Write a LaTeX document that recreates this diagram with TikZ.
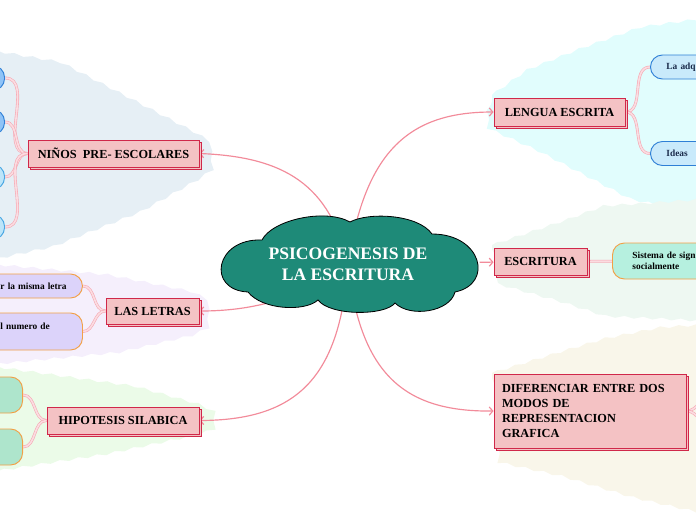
\documentclass[tikz,border=0pt]{standalone}
\usepackage{fontspec}
\setmainfont{Liberation Serif}
\usepackage{tikz}
\usetikzlibrary{shadows,arrows.meta,decorations.pathmorphing,backgrounds}
\definecolor{verdone}{HTML}{1E8A78}
\definecolor{rosa}{HTML}{F28B9A}
\definecolor{rosabox}{HTML}{F4C2C4}
\definecolor{cremisi}{HTML}{D0284A}
\definecolor{arancio}{HTML}{F2A046}
\definecolor{azzurro}{HTML}{2E7FD6}
\definecolor{celeste}{HTML}{45A5E3}
\definecolor{navy}{HTML}{1A2A4A}

\begin{document}
\begin{tikzpicture}[x=0.03cm,y=-0.03cm,
    fondo/.style={decorate, decoration={snake, amplitude=1pt, segment length=16pt}},
    tema/.style={rectangle, fill=rosabox, draw=cremisi, line width=0.8pt,
        copy shadow={shadow xshift=2.5pt, shadow yshift=-2.5pt},
        font=\fontsize{10.5}{12.75}\selectfont\bfseries, inner sep=0pt},
    titolo/.style={rectangle, minimum width=7.89cm, minimum height=2.79cm, inner sep=0pt,
        text=white, align=center, font=\fontsize{15}{18}\selectfont\bfseries},
    nube/.style={fill=verdone, draw=black, line width=0.7pt},
    foglia/.style={rectangle, rounded corners=0.36cm, line width=0.8pt,
        font=\fontsize{8}{9.5}\selectfont\bfseries, align=left},
    ramo/.style={draw=rosa!75, line width=0.5pt, double=rosa!30, double distance=1.4pt},
    freccia/.style={draw=rosa, line width=1pt, -{Straight Barb[length=3pt,width=7pt]}}]
    \useasboundingbox (0,0) rectangle (696,520);
    \clip (0,0) rectangle (696,520);

    % idea centrale
    \node[titolo] (centro) at (348,264) {PSICOGENESIS DE\\LA ESCRITURA};

    % temi
    \node[tema, minimum width=5.13cm, minimum height=0.81cm] (ninos) at (113.5,153.5) {NIÑOS~~PRE- ESCOLARES};
    \node[tema, minimum width=2.79cm, minimum height=0.78cm] (letras) at (152.5,311) {LAS LETRAS};
    \node[tema, minimum width=4.56cm, minimum height=0.81cm] (hipotesis) at (123,420.5) {HIPOTESIS SILABICA};
    \node[tema, minimum width=3.93cm, minimum height=0.84cm] (lengua) at (559.5,112) {LENGUA ESCRITA};
    \node[tema, minimum width=2.79cm, minimum height=0.81cm] (escritura) at (540.5,261.5) {ESCRITURA};
    \node[tema, minimum width=5.76cm, minimum height=2.22cm, text width=5.28cm, align=left]
        (diferenciar) at (590,411) {DIFERENCIAR ENTRE DOS\\MODOS DE\\REPRESENTACION\\GRAFICA};

    % foglie
    \node[foglia, fill={rgb,255:red,143;green,195;blue,247}, draw=azzurro, minimum width=2cm, minimum height=0.75cm,
        anchor=east] (n1) at (5,78) {};
    \node[foglia, fill={rgb,255:red,143;green,195;blue,247}, draw=azzurro, minimum width=2cm, minimum height=0.75cm,
        anchor=east] (n2) at (5,122) {};
    \node[foglia, fill={rgb,255:red,189;green,229;blue,249}, draw=celeste, minimum width=2cm, minimum height=0.75cm,
        anchor=east] (n3) at (5,177) {};
    \node[foglia, fill={rgb,255:red,189;green,229;blue,249}, draw=celeste, minimum width=2cm, minimum height=0.75cm,
        anchor=east] (n4) at (5,227) {};

    \node[foglia, fill={rgb,255:red,220;green,211;blue,250}, draw=arancio, text width=2.04cm, inner xsep=0.42cm,
        minimum height=0.72cm, anchor=west] (l1) at (-14,286) {r la misma letra};
    \node[foglia, fill={rgb,255:red,220;green,211;blue,250}, draw=arancio, text width=2.04cm, inner xsep=0.42cm,
        minimum height=1.11cm, anchor=west] (l2) at (-14,331.5) {l numero de\\\mbox{}};

    \node[foglia, fill={rgb,255:red,174;green,229;blue,204}, draw=arancio, minimum width=2cm, minimum height=1.08cm,
        anchor=east] (h1) at (23,395) {};
    \node[foglia, fill={rgb,255:red,174;green,229;blue,204}, draw=arancio, minimum width=2cm, minimum height=1.08cm,
        anchor=east] (h2) at (23,447) {};

    \node[foglia, fill={rgb,255:red,201;green,234;blue,251}, draw=azzurro, text=navy, text width=2cm,
        inner xsep=0.48cm, minimum height=0.72cm, anchor=west] (la1) at (650,67) {La adq};
    \node[foglia, fill={rgb,255:red,201;green,234;blue,251}, draw=azzurro, text=navy, text width=2cm,
        inner xsep=0.48cm, minimum height=0.72cm, anchor=west] (la2) at (650,153.5) {Ideas};

    \node[foglia, fill={rgb,255:red,182;green,240;blue,223}, draw=arancio, text width=2.6cm,
        inner xsep=0.6cm, minimum height=1.08cm, anchor=west] (es1) at (612,261) {Sistema de sign\\socialmente};

    \coordinate (d1) at (712,396);
    \coordinate (d2) at (712,426);

    \begin{scope}[on background layer]
    % sfondi dei rami
    \fill[fondo, fill={rgb,255:red,230;green,239;blue,245}] (-10,50) -- (60,62) -- (133,100) -- (190,130) -- (207,140)
        -- (209,165) -- (190,178) -- (133,210) -- (50,243) -- (-10,256) -- cycle;
    \fill[fondo, fill={rgb,255:red,245;green,239;blue,252}] (-10,264) -- (100,274) -- (190,292) -- (207,300)
        -- (207,325) -- (190,333) -- (117,350) -- (-10,362) -- cycle;
    \fill[fondo, fill={rgb,255:red,235;green,251;blue,232}] (-10,366) -- (133,386) -- (190,402) -- (207,410)
        -- (207,436) -- (190,442) -- (100,461) -- (-10,478) -- cycle;
    \fill[fondo, fill={rgb,255:red,225;green,253;blue,253}] (492,95) -- (527,70) -- (577,50) -- (633,30) -- (706,20)
        -- (706,216) -- (633,200) -- (543,153) -- (492,130) -- cycle;
    \fill[fondo, fill={rgb,255:red,238;green,248;blue,242}] (492,245) -- (560,222) -- (600,207) -- (706,200)
        -- (706,318) -- (600,313) -- (560,300) -- (492,281) -- cycle;
    \fill[fondo, fill={rgb,255:red,249;green,246;blue,234}] (492,373) -- (560,352) -- (600,340) -- (660,328) -- (706,325)
        -- (706,505) -- (627,487) -- (560,467) -- (492,452) -- cycle;

    % rami
    \foreach \n in {n1,n2,n3,n4}
        \draw[ramo] (ninos.west) to[out=180,in=0] (\n.east);
    \draw[ramo] (letras.west) to[out=180,in=0] (l1.east);
    \draw[ramo] (letras.west) to[out=180,in=0] (l2.east);
    \draw[ramo] (hipotesis.west) to[out=180,in=0] (h1.east);
    \draw[ramo] (hipotesis.west) to[out=180,in=0] (h2.east);
    \draw[ramo] (lengua.east) to[out=0,in=180] (la1.west);
    \draw[ramo] (lengua.east) to[out=0,in=180] (la2.west);
    \draw[ramo] (escritura) -- (es1);
    \draw[ramo] (diferenciar.east) to[out=0,in=180] (d1);
    \draw[ramo] (diferenciar.east) to[out=0,in=180] (d2);

    % frecce dal centro
    \draw[freccia] (centro.center) .. controls (330,185) and (285,157) .. (ninos.east);
    \draw[freccia] (centro.center) .. controls (365,150) and (410,112) .. (lengua.west);
    \draw[freccia] (centro) -- (escritura);
    \draw[freccia] (centro.center) .. controls (300,300) and (250,311) .. (letras.east);
    \draw[freccia] (centro.center) .. controls (340,380) and (295,420) .. (hipotesis.east);
    \draw[freccia] (centro.center) .. controls (360,375) and (405,412) .. (diferenciar.west);

    % nuvola
    \filldraw[nube] (248,292) .. controls (206,290) and (215,238) .. (262,240)
        .. controls (272,220) and (325,208) .. (350,222)
        .. controls (368,212) and (418,214) .. (432,234)
        .. controls (482,234) and (494,284) .. (455,292)
        .. controls (450,312) and (410,318) .. (395,303)
        .. controls (385,316) and (330,316) .. (318,300)
        .. controls (305,312) and (262,310) .. cycle;
    \end{scope}
\end{tikzpicture}
\end{document}
